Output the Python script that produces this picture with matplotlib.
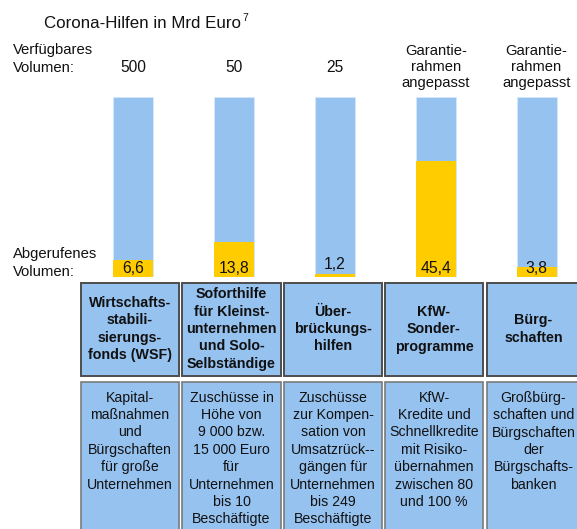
import matplotlib
matplotlib.use("Agg")
import matplotlib.pyplot as plt
from matplotlib.patches import Rectangle

plt.rcParams['font.family'] = ['Liberation Sans', 'DejaVu Sans']

# ---------------- data ----------------
title = "Corona-Hilfen in Mrd Euro"
available_labels = ["500", "50", "25", "Garantie-\nrahmen\nangepasst", "Garantie-\nrahmen\nangepasst"]
used_values = [6.6, 13.8, 1.2, 45.4, 3.8]
# share of bar shown as "called" (schematic, percent)
used_share = [9.4, 19.6, 1.8, 64.4, 5.4]
categories = [
    "Wirtschafts-\nstabili-\nsierungs-\nfonds (WSF)",
    "Soforthilfe\nfür Kleinst-\nunternehmen\nund Solo-\nSelbständige",
    "Über-\nbrückungs-\nhilfen",
    "KfW-\nSonder-\nprogramme",
    "Bürg-\nschaften",
]
descriptions = [
    "Kapital-\nmaßnahmen\nund\nBürgschaften\nfür große\nUnternehmen",
    "Zuschüsse in\nHöhe von\n9 000 bzw.\n15 000 Euro\nfür\nUnternehmen\nbis 10\nBeschäftigte",
    "Zuschüsse\nzur Kompen-\nsation von\nUmsatzrück--\ngängen für\nUnternehmen\nbis 249\nBeschäftigte",
    "KfW-\nKredite und\nSchnellkredite\nmit Risiko-\nübernahmen\nzwischen 80\nund 100 %",
    "Großbürg-\nschaften und\nBürgschaften\nder\nBürgschafts-\nbanken",
]

BLUE = "#96C2F0"
YELLOW = "#FFCC00"

W, H = 577, 529
fig = plt.figure(figsize=(W / 100, H / 100), dpi=100)

# overlay axes in pixel coordinates
ax = fig.add_axes([0, 0, 1, 1])
ax.set_xlim(0, W)
ax.set_ylim(H, 0)
ax.axis("off")

# bar axes
bar_top, bar_bot = 97, 277
c0, step = 133.0, 100.9
bax = fig.add_axes([0, (H - bar_bot) / H, 1, (bar_bot - bar_top) / H])
bax.set_xlim(-c0 / step, (W - c0) / step)
bax.set_ylim(0, 100)
bax.axis("off")
idx = list(range(len(used_values)))
bw = 40 / step
bax.bar(idx, [100] * len(idx), width=bw, color=BLUE, edgecolor="#d6e8fb", linewidth=0.6)
bax.bar(idx, used_share, width=bw, color=YELLOW, linewidth=0)
for i, (v, s) in enumerate(zip(used_values, used_share)):
    y = s + 2.4 if s < 3 else 2.2
    bax.text(i, y, f"{v:.1f}".replace(".", ","), ha="center", va="baseline",
             fontsize=11.3, color="#111111")

# title
ax.text(44, 28, title, fontsize=12.2, va="baseline", ha="left", color="#111111")
ax.text(242, 21, "7", fontsize=7.5, va="baseline", ha="left", color="#111111")

# side labels
ax.text(13, 54, "Verfügbares", fontsize=10.7, va="baseline", color="#111111")
ax.text(13, 72, "Volumen:", fontsize=10.7, va="baseline", color="#111111")
ax.text(13, 258, "Abgerufenes", fontsize=10.7, va="baseline", color="#111111")
ax.text(13, 276, "Volumen:", fontsize=10.7, va="baseline", color="#111111")

# available labels
for i, lab in enumerate(available_labels):
    cx = c0 + step * i
    lines = lab.split("\n")
    if len(lines) == 1:
        ax.text(cx, 72, lab, fontsize=11.2, ha="center", va="baseline", color="#111111")
    else:
        for k, ln in enumerate(lines):
            ax.text(cx, 55 + 16 * k, ln, fontsize=10.6, ha="center", va="baseline",
                    color="#111111")

# boxes
box_left = [81, 182, 284, 385, 487]
box_w = [98, 99, 98, 98, 93]
for i in range(len(categories)):
    x0 = box_left[i]
    w = box_w[i]
    cx = x0 + w / 2
    # header
    ax.add_patch(Rectangle((x0, 283), w, 93, facecolor=BLUE, edgecolor="#4d4d4d", linewidth=1.4))
    lines = categories[i].split("\n")
    n = len(lines)
    ls = 17.5
    first = 333 - (n - 1) * ls / 2
    for k, ln in enumerate(lines):
        ax.text(cx, first + k * ls, ln, fontsize=10.3, fontweight="bold",
                ha="center", va="baseline", color="#111111")
    # description
    ax.add_patch(Rectangle((x0, 382), w, 160, facecolor=BLUE, edgecolor="#7a7a7a", linewidth=1.2))
    for k, ln in enumerate(descriptions[i].split("\n")):
        ax.text(cx, 401.7 + 17.4 * k, ln, fontsize=10.2, ha="center", va="baseline",
                color="#111111")

fig.savefig("out.png", dpi=100)
